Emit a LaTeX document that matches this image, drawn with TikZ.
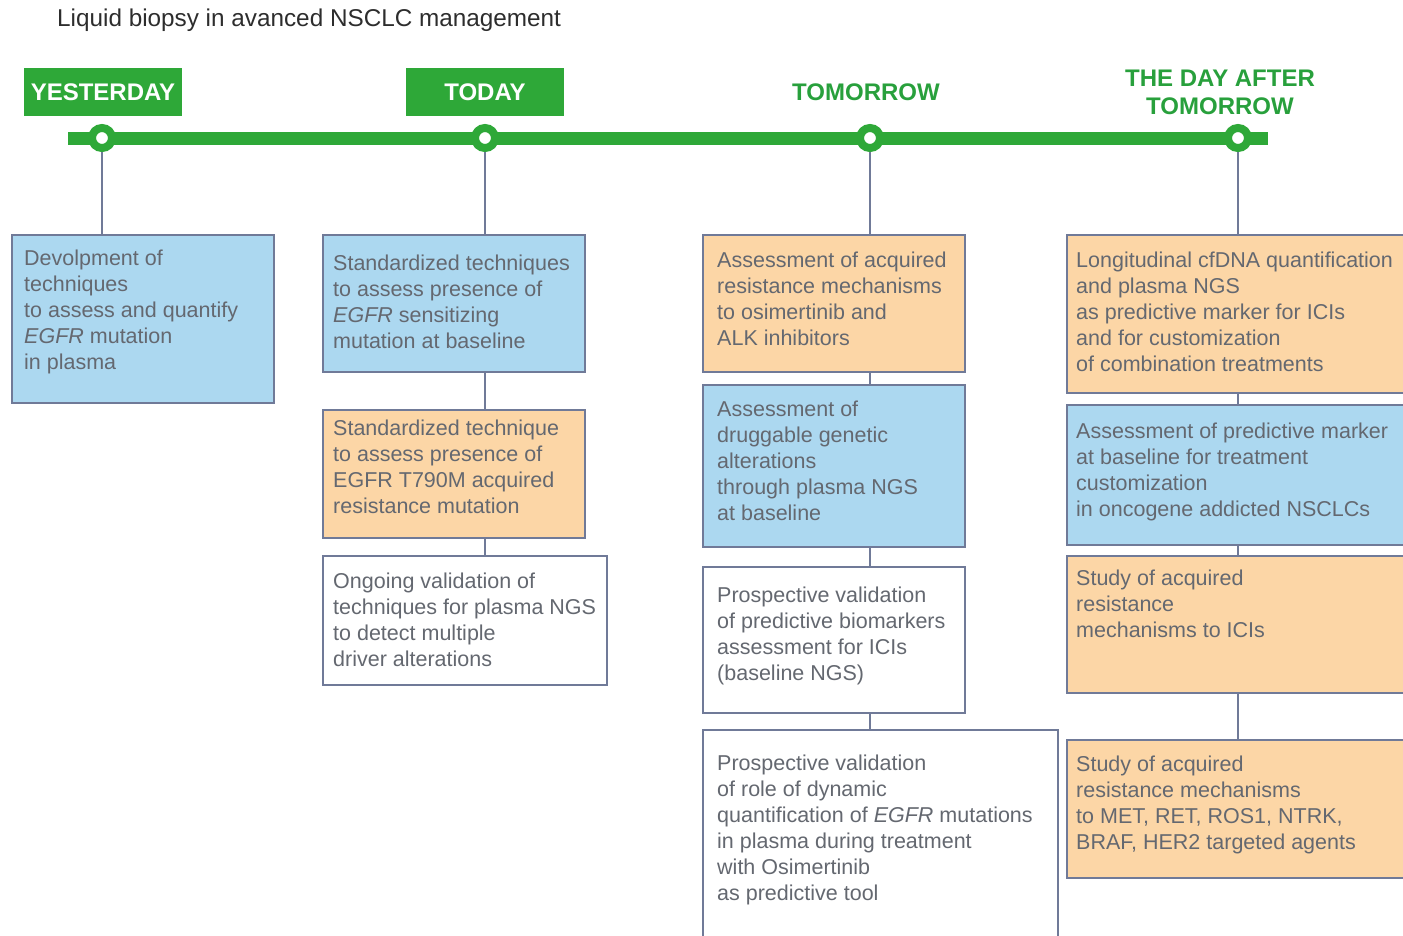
\documentclass[tikz,border=0pt]{standalone}
\usepackage{fontspec}
\setmainfont{Liberation Sans}
\definecolor{tlgreen}{RGB}{46,168,56}
\definecolor{hdgreen}{RGB}{40,160,60}
\definecolor{bluefill}{RGB}{172,216,240}
\definecolor{orangefill}{RGB}{252,214,166}
\definecolor{boxedge}{RGB}{112,122,152}
\definecolor{bodytext}{RGB}{100,104,112}
\definecolor{titletext}{RGB}{45,45,45}
\begin{document}
\begin{tikzpicture}[x=1pt,y=-1pt,
  box/.style={draw=boxedge, line width=1.6pt, anchor=north west, inner sep=0pt, outer sep=0pt},
  bluebox/.style={box, fill=bluefill},
  orangebox/.style={box, fill=orangefill},
  whitebox/.style={box, fill=white},
  txt/.style={anchor=north west, inner sep=0pt, align=left, text=bodytext, font=\fontsize{21.5}{26}\selectfont},
  conn/.style={draw=boxedge, line width=1.6pt},
  milestone/.style={circle, draw=tlgreen, fill=white, line width=8pt, minimum size=20pt, inner sep=0pt},
  tag/.style={fill=tlgreen, text=white, font=\fontsize{24}{28}\selectfont\bfseries, minimum width=158pt, minimum height=48pt, inner sep=0pt},
  plainhead/.style={text=hdgreen, font=\fontsize{24}{28}\selectfont\bfseries, align=center, inner sep=0pt}
]
\useasboundingbox (0,0) rectangle (1403,935);
\clip (0,0) rectangle (1403,935);

% title
\node[anchor=west, text=titletext, font=\fontsize{24.3}{28}\selectfont, inner sep=0pt] (title) at (57,20) {Liquid biopsy in avanced NSCLC management};

% headers
\node[tag] (yest) at (103,92) {YESTERDAY};
\node[tag] (today) at (485,92) {TODAY};
\node[plainhead] (tom) at (866,92) {TOMORROW};
\node[plainhead] (dat) at (1220,92) {THE DAY AFTER\\TOMORROW};

% boxes
\node[bluebox, minimum width=262pt, minimum height=168pt] (a1) at (12,235) {};
\node[bluebox, minimum width=262pt, minimum height=137pt] (b1) at (323,235) {};
\node[orangebox, minimum width=262pt, minimum height=128pt] (b2) at (323,410) {};
\node[whitebox, minimum width=284pt, minimum height=129pt] (b3) at (323,556) {};
\node[orangebox, minimum width=262pt, minimum height=137pt] (c1) at (703,235) {};
\node[bluebox, minimum width=262pt, minimum height=162pt] (c2) at (703,385) {};
\node[whitebox, minimum width=262pt, minimum height=146pt] (c3) at (703,567) {};
\node[whitebox, minimum width=355pt, minimum height=220pt] (c4) at (703,730) {};
\node[orangebox, minimum width=345pt, minimum height=158pt] (d1) at (1067,235) {};
\node[bluebox, minimum width=345pt, minimum height=140pt] (d2) at (1067,405) {};
\node[orangebox, minimum width=345pt, minimum height=137pt] (d3) at (1067,556) {};
\node[orangebox, minimum width=345pt, minimum height=138pt] (d4) at (1067,740) {};

% timeline
\coordinate (barL) at (68,138);
\coordinate (barR) at (1268,138);
\draw[tlgreen, line width=13pt] (barL) -- (barR);
\node[milestone] (m1) at (102,138) {};
\node[milestone] (m2) at (485,138) {};
\node[milestone] (m3) at (870,138) {};
\node[milestone] (m4) at (1238,138) {};

% connectors
\draw[conn] (m1.south) -- (m1.south |- a1.north);
\draw[conn] (m2.south) -- (m2.south |- b1.north);
\draw[conn] (b1.south -| m2) -- (b2.north -| m2);
\draw[conn] (b2.south -| m2) -- (b3.north -| m2);
\draw[conn] (m3.south) -- (m3.south |- c1.north);
\draw[conn] (c1.south -| m3) -- (c2.north -| m3);
\draw[conn] (c2.south -| m3) -- (c3.north -| m3);
\draw[conn] (c3.south -| m3) -- (c4.north -| m3);
\draw[conn] (m4.south) -- (m4.south |- d1.north);
\draw[conn] (d1.south -| m4) -- (d2.north -| m4);
\draw[conn] (d2.south -| m4) -- (d3.north -| m4);
\draw[conn] (d3.south -| m4) -- (d4.north -| m4);

% texts
\node[txt] (a1t) at (24,250) {Devolpment of\\techniques\\to assess and quantify\\\textit{EGFR} mutation\\in plasma};
\node[txt] (b1t) at (333,255) {Standardized techniques\\to assess presence of\\\textit{EGFR} sensitizing\\mutation at baseline};
\node[txt] (b2t) at (333,420) {Standardized technique\\to assess presence of\\EGFR T790M acquired\\resistance mutation};
\node[txt] (b3t) at (333,573) {Ongoing validation of\\techniques for plasma NGS\\to detect multiple\\driver alterations};
\node[txt] (c1t) at (717,252) {Assessment of acquired\\resistance mechanisms\\to osimertinib and\\ALK inhibitors};
\node[txt] (c2t) at (717,401) {Assessment of\\druggable genetic\\alterations\\through plasma NGS\\at baseline};
\node[txt] (c3t) at (717,587) {Prospective validation\\of predictive biomarkers\\assessment for ICIs\\(baseline NGS)};
\node[txt] (c4t) at (717,755) {Prospective validation\\of role of dynamic\\quantification of \textit{EGFR} mutations\\in plasma during treatment\\with Osimertinib\\as predictive tool};
\node[txt] (d1t) at (1076,252) {Longitudinal cfDNA quantification\\and plasma NGS\\as predictive marker for ICIs\\and for customization\\of combination treatments};
\node[txt] (d2t) at (1076,423) {Assessment of predictive marker\\at baseline for treatment\\customization\\in oncogene addicted NSCLCs};
\node[txt] (d3t) at (1076,570) {Study of acquired\\resistance\\mechanisms to ICIs};
\node[txt] (d4t) at (1076,756) {Study of acquired\\resistance mechanisms\\to MET, RET, ROS1, NTRK,\\BRAF, HER2 targeted agents};
\end{tikzpicture}
\end{document}
